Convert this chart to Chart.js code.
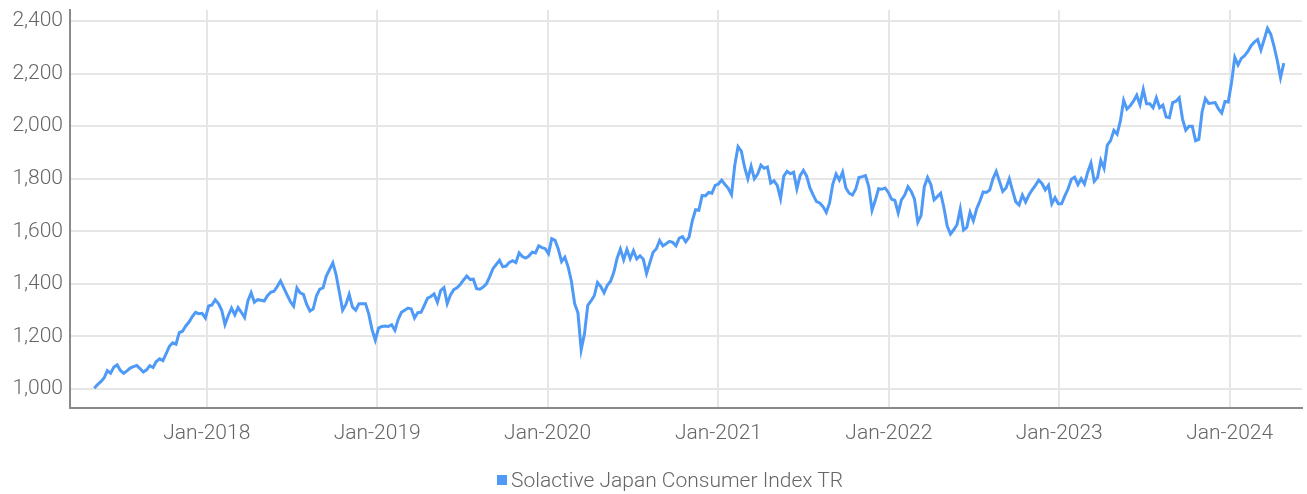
<!DOCTYPE html>
<html lang="en">
<head>
  <meta charset="UTF-8" />
  <title>Solactive Japan Consumer Index TR</title>
  <script src="https://cdn.jsdelivr.net/npm/chart.js"></script>
  <style>
    body {
      margin: 0;
      background: #ffffff;
      font-family: 'Roboto', sans-serif;
    }
    .wrap {
      position: relative;
      width: 1307px;
      height: 494px;
    }
    /* legend sits under the x axis labels */
    .legend {
      position: absolute;
      left: 497px;
      top: 467px;
      height: 26px;
      display: flex;
      align-items: center;
      color: #666;
      font-size: 21px;
      font-weight: 300;
      white-space: nowrap;
    }
    .legend .swatch {
      width: 10px;
      height: 10px;
      margin-right: 4px;
      background: #4e9af6;
    }
  </style>
</head>
<body>
  <div class="wrap">
    <canvas id="indexChart" width="1307" height="494"></canvas>
    <div class="legend"><span class="swatch"></span><span id="legendText"></span></div>
  </div>

  <script>
    // Weekly closes (Fridays), starting at the first week below
    const firstFriday = '2017-05-05';
    const closes2017 = [1003, 1017, 1028, 1042, 1070, 1060, 1084, 1092, 1071, 1060, 1069, 1080, 1085, 1090, 1078, 1065, 1073, 1089, 1082, 1105, 1115, 1108, 1135, 1163, 1176, 1171, 1215, 1220, 1240, 1255, 1276, 1292, 1287, 1288, 1270];
    const closes2018 = [1316, 1320, 1340, 1325, 1300, 1246, 1280, 1308, 1282, 1310, 1292, 1272, 1335, 1366, 1330, 1340, 1338, 1335, 1355, 1368, 1372, 1390, 1411, 1385, 1358, 1333, 1315, 1385, 1366, 1360, 1322, 1297, 1305, 1355, 1380, 1385, 1430, 1455, 1480, 1435, 1368, 1300, 1322, 1360, 1312, 1300, 1325, 1325, 1325, 1285, 1226, 1186];
    const closes2019 = [1232, 1238, 1240, 1238, 1245, 1224, 1265, 1292, 1300, 1308, 1305, 1270, 1291, 1292, 1318, 1346, 1352, 1362, 1330, 1375, 1386, 1325, 1358, 1378, 1385, 1398, 1415, 1430, 1417, 1418, 1382, 1380, 1388, 1400, 1428, 1458, 1474, 1490, 1465, 1468, 1482, 1488, 1481, 1518, 1504, 1498, 1506, 1521, 1518, 1545, 1538, 1534];
    const closes2020 = [1515, 1572, 1566, 1532, 1485, 1502, 1465, 1410, 1325, 1290, 1150, 1210, 1318, 1335, 1355, 1405, 1390, 1366, 1395, 1410, 1445, 1498, 1533, 1492, 1531, 1496, 1526, 1495, 1507, 1494, 1440, 1480, 1520, 1534, 1565, 1545, 1553, 1562, 1558, 1545, 1574, 1580, 1560, 1578, 1640, 1682, 1680, 1736, 1735, 1748, 1745, 1775];
    const closes2021 = [1780, 1795, 1778, 1764, 1740, 1852, 1922, 1905, 1844, 1800, 1848, 1800, 1818, 1852, 1840, 1845, 1784, 1792, 1775, 1725, 1810, 1828, 1819, 1825, 1762, 1812, 1832, 1810, 1765, 1738, 1713, 1708, 1694, 1672, 1708, 1780, 1818, 1795, 1825, 1765, 1745, 1738, 1760, 1805, 1808, 1812, 1770, 1680, 1718, 1762, 1760, 1765, 1748];
    const closes2022 = [1722, 1718, 1670, 1720, 1738, 1770, 1752, 1722, 1635, 1660, 1770, 1805, 1778, 1720, 1732, 1745, 1690, 1620, 1590, 1606, 1625, 1685, 1605, 1615, 1672, 1640, 1685, 1715, 1750, 1748, 1757, 1800, 1828, 1790, 1752, 1765, 1800, 1755, 1712, 1700, 1738, 1712, 1738, 1758, 1775, 1795, 1782, 1758, 1775, 1705, 1728, 1705];
    const closes2023 = [1705, 1735, 1762, 1798, 1806, 1778, 1800, 1780, 1825, 1860, 1790, 1805, 1870, 1840, 1928, 1945, 1984, 1970, 2020, 2098, 2065, 2078, 2095, 2118, 2082, 2140, 2085, 2085, 2070, 2108, 2070, 2080, 2035, 2032, 2090, 2095, 2108, 2028, 1985, 2000, 2000, 1945, 1950, 2055, 2105, 2087, 2088, 2090, 2066, 2050, 2094, 2092];
    const closes2024 = [2165, 2262, 2233, 2258, 2268, 2284, 2306, 2320, 2330, 2290, 2330, 2372, 2350, 2305, 2250, 2185, 2240];

    const seriesName = 'Solactive Japan Consumer Index TR';
    const yearTicks = [2018, 2019, 2020, 2021, 2022, 2023, 2024];
    const valueTicks = [1000, 1200, 1400, 1600, 1800, 2000, 2200, 2400];

    const closes = [].concat(closes2017, closes2018, closes2019, closes2020,
      closes2021, closes2022, closes2023, closes2024);

    const DAY = 24 * 3600 * 1000;
    const start = Date.parse(firstFriday);
    const points = closes.map((v, i) => ({ x: start + i * 7 * DAY, y: v }));

    const lineBlue = '#4e9af6';
    const axisFont = { family: "'Roboto', sans-serif", size: 21, weight: 300 };

    document.getElementById('legendText').textContent = seriesName;

    new Chart(document.getElementById('indexChart'), {
      type: 'line',
      data: {
        datasets: [{
          label: seriesName,
          data: points,
          borderColor: lineBlue,
          backgroundColor: lineBlue,
          borderWidth: 3,
          pointRadius: 0,
          tension: 0,
          fill: false
        }]
      },
      options: {
        responsive: false,
        animation: false,
        layout: { padding: { top: 10, right: 5, left: 0, bottom: 0 } },
        plugins: {
          tooltip: { enabled: false },
          legend: { display: false }
        },
        scales: {
          x: {
            type: 'linear',
            min: Date.parse('2017-03-14'),
            max: Date.parse('2024-06-04'),
            afterBuildTicks: (axis) => {
              axis.ticks = yearTicks.map(y => ({ value: Date.UTC(y, 0, 1) }));
            },
            afterFit: (axis) => {
              axis.height = 86;
              axis.paddingLeft = 0;
              axis.paddingRight = 0;
            },
            ticks: {
              color: '#666',
              font: axisFont,
              maxRotation: 0,
              autoSkip: false,
              padding: 13,
              callback: (v) => 'Jan-' + new Date(v).getUTCFullYear()
            },
            grid: { color: '#e6e6e6', lineWidth: 2, drawTicks: false },
            border: { color: '#8a8a8a', width: 2 }
          },
          y: {
            min: 928,
            max: 2442,
            afterBuildTicks: (axis) => {
              axis.ticks = valueTicks.map(v => ({ value: v }));
            },
            afterFit: (axis) => {
              axis.width = 70;
              axis.paddingTop = 0;
              axis.paddingBottom = 0;
            },
            ticks: {
              color: '#666',
              font: axisFont,
              padding: 7,
              callback: (v) => v.toLocaleString('en-US')
            },
            grid: { color: '#e6e6e6', lineWidth: 2, drawTicks: false },
            border: { color: '#8a8a8a', width: 2 }
          }
        }
      }
    });
  </script>
</body>
</html>
